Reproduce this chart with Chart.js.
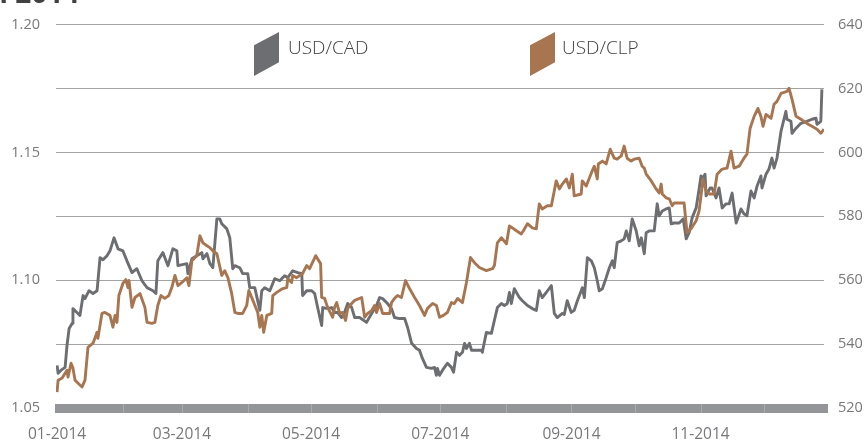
<!DOCTYPE html>
<html><head><meta charset="utf-8">
<script src="https://cdn.jsdelivr.net/npm/chart.js@4.4.1/dist/chart.umd.min.js"></script>
<style>
html,body{margin:0;padding:0;background:#fff;}
#wrap{position:relative;width:866px;height:443px;overflow:hidden;font-family:"Open Sans",sans-serif;}
canvas{position:absolute;left:0;top:0;}
.title{position:absolute;left:-19px;top:-22px;font-weight:700;font-size:28px;line-height:28px;color:#414042;white-space:nowrap;}
.sw{position:absolute;top:32px;width:25px;height:44px;clip-path:polygon(0 30%,100% 0,100% 69%,0 100%);}
.lt{position:absolute;top:38px;font-size:19px;line-height:19px;color:#414042;font-weight:300;white-space:nowrap;}
</style></head>
<body><div id="wrap">
<canvas id="c" width="866" height="443"></canvas>
<div class="title">in 2014</div>
<div class="sw" style="left:254px;background:#6d6e71"></div><div class="lt" style="left:288px">USD/CAD</div>
<div class="sw" style="left:530px;background:#a87551"></div><div class="lt" style="left:562px">USD/CLP</div>
</div>
<script>
// Day of year 2014 (0 = 1 Jan)
const monthStartDays = [0,31,59,90,120,151,181,212,243,273,304,334];
const xTickLabels = ['01-2014','','03-2014','','05-2014','','07-2014','','09-2014','','11-2014',''];
const cadTicks = [1.05,1.10,1.15,1.20];
const clpTicks = [520,540,560,580,600,620,640];

const cadDays = [0,0.5,1.9,3.8,4.7,5.7,7.1,7.5,9.4,10.8,12.3,13.2,15.1,17.0,18.9,20.3,21.7,23.6,25.0,26.9,28.8,31.1,33.0,35.4,37.7,40.1,42.5,45.3,46.7,47.6,50.0,52.4,54.7,56.6,57.1,61.3,61.8,63.7,66.0,68.4,68.9,70.8,72.2,73.6,75.5,76.9,77.8,80.2,81.6,83.0,84.0,86.3,87.7,90.1,91.0,93.4,95.8,96.7,98.1,100.5,102.8,105.2,107.5,109.0,111.3,113.7,115.6,116.0,117.9,120.3,121.7,123.1,125.0,125.5,127.8,129.7,131.1,132.5,134.4,135.8,137.3,139.2,140.6,142.9,146.2,148.6,150.9,152.4,153.8,156.1,158.0,159.4,161.8,164.2,165.6,167.5,169.8,171.2,172.6,174.5,176.9,178.3,179.2,179.7,180.7,182.1,184.4,186.3,187.3,188.7,190.1,191.5,192.5,193.4,194.8,195.8,198.1,200.5,200.9,202.8,205.2,205.7,208.0,209.9,211.3,212.7,213.7,214.6,216.0,218.4,219.8,222.2,224.5,226.4,227.8,229.2,231.1,233.5,234.9,236.3,238.7,239.6,241.0,242.9,244.3,245.8,247.6,248.1,249.1,250.5,252.4,253.8,255.2,256.1,257.6,259.4,260.9,262.3,263.2,264.6,266.5,267.9,268.9,270.3,271.7,273.6,275.0,276.0,277.4,278.3,279.7,282.1,283.5,284.4,285.9,287.7,289.2,290.1,291.5,293.9,295.8,297.2,298.6,300.0,301.9,303.3,304.2,305.2,306.1,306.6,308.5,309.4,311.3,312.7,314.2,316.0,317.5,318.9,320.8,323.1,324.5,325.9,327.8,329.3,330.7,332.5,333.0,334.9,336.3,337.7,338.7,340.1,342.0,344.3,344.8,346.7,347.2,349.1,351.4,354.2,356.6,358.5,359.0,360.8,361.3];
const cadRates = [1.0667,1.0636,1.0648,1.0659,1.0745,1.0811,1.0831,1.0889,1.0874,1.0862,1.0940,1.0928,1.0959,1.0948,1.0959,1.1088,1.1080,1.1096,1.1115,1.1166,1.1123,1.1115,1.1076,1.1030,1.1045,1.0998,1.0971,1.0959,1.0948,1.1076,1.1108,1.1057,1.1123,1.1115,1.1057,1.1065,1.1026,1.1084,1.1096,1.1108,1.1084,1.1104,1.1065,1.1049,1.1240,1.1240,1.1221,1.1201,1.1166,1.1045,1.1057,1.1049,1.1026,1.1026,1.0971,1.0971,1.0882,1.0959,1.0971,1.0959,1.1006,1.0998,1.1018,1.1010,1.1037,1.1030,1.1026,1.0940,1.0959,1.0959,1.0948,1.0893,1.0823,1.0893,1.0889,1.0893,1.0874,1.0874,1.0854,1.0874,1.0909,1.0893,1.0854,1.0854,1.0835,1.0870,1.0901,1.0932,1.0928,1.0909,1.0889,1.0854,1.0850,1.0850,1.0815,1.0753,1.0733,1.0726,1.0694,1.0659,1.0655,1.0659,1.0628,1.0655,1.0628,1.0648,1.0675,1.0659,1.0640,1.0718,1.0706,1.0718,1.0753,1.0733,1.0753,1.0726,1.0726,1.0726,1.0718,1.0796,1.0792,1.0811,1.0893,1.0909,1.0901,1.0909,1.0952,1.0909,1.0967,1.0932,1.0920,1.0901,1.0889,1.0882,1.0959,1.0932,1.0952,1.0979,1.0870,1.0854,1.0870,1.0866,1.0920,1.0874,1.0882,1.0920,1.0959,1.0971,1.0932,1.1088,1.1076,1.1049,1.0998,1.0959,1.0967,1.1010,1.1049,1.1076,1.1049,1.1147,1.1154,1.1162,1.1193,1.1154,1.1240,1.1193,1.1135,1.1166,1.1104,1.1186,1.1193,1.1193,1.1299,1.1252,1.1271,1.1279,1.1283,1.1221,1.1224,1.1224,1.1240,1.1162,1.1186,1.1244,1.1283,1.1357,1.1408,1.1400,1.1415,1.1330,1.1361,1.1361,1.1322,1.1361,1.1283,1.1299,1.1299,1.1341,1.1224,1.1279,1.1260,1.1252,1.1349,1.1322,1.1369,1.1408,1.1361,1.1415,1.1435,1.1478,1.1439,1.1478,1.1583,1.1661,1.1630,1.1622,1.1575,1.1595,1.1614,1.1622,1.1630,1.1634,1.1610,1.1622,1.1747];

const clpDays = [0,0.5,2.4,4.7,5.2,6.6,7.5,8.5,10.8,11.8,13.2,14.6,17.0,18.9,19.3,21.2,22.6,25.0,26.4,27.4,28.3,29.2,31.1,32.5,33.5,34.0,35.4,36.8,39.2,41.5,42.5,44.8,46.2,47.6,49.1,50.9,52.8,54.2,55.7,57.1,59.0,61.3,62.3,63.7,66.0,67.5,68.9,70.8,72.2,73.6,75.5,77.8,79.2,80.7,82.5,84.0,85.4,87.7,89.6,90.6,92.5,94.8,95.8,96.7,97.6,99.1,101.4,101.9,103.8,106.6,108.5,109.0,110.8,111.3,113.2,116.0,117.9,119.3,122.2,124.5,125.0,126.4,127.8,130.2,131.1,132.1,133.5,134.9,136.3,137.3,139.2,140.6,143.9,145.3,146.7,148.6,150.0,150.9,152.4,153.8,157.1,158.0,159.4,160.8,162.7,164.6,166.5,168.9,171.2,173.6,175.0,177.4,179.2,180.7,182.5,184.4,186.3,187.7,189.2,191.5,193.4,195.3,197.2,199.5,202.8,205.7,206.6,208.0,209.9,212.3,213.7,215.1,217.0,219.3,220.3,222.2,224.5,226.4,227.8,229.2,231.6,233.5,234.9,235.8,237.3,238.7,240.6,242.0,243.4,244.3,247.6,248.1,250.0,252.4,253.8,255.2,255.7,257.6,259.4,261.3,263.2,264.6,266.5,267.9,269.3,271.2,272.6,275.0,276.4,277.4,278.3,280.7,283.0,284.4,285.4,285.9,287.7,289.2,290.6,291.5,296.2,297.6,299.5,301.9,303.3,305.2,306.6,308.0,310.4,311.8,314.2,316.5,318.4,319.8,322.2,324.5,325.9,327.4,329.3,331.1,332.5,333.5,334.9,337.3,338.7,340.1,342.0,344.8,345.8,347.2,349.1,351.4,354.2,356.6,359.0,360.8,362.3];
const clpRates = [525.0,528.7,529.4,531.8,529.7,534.0,532.5,528.7,527.2,526.6,528.7,539.0,540.3,543.7,541.8,549.6,549.9,549.0,545.3,549.0,546.8,555.2,559.0,560.2,557.7,559.9,551.5,554.6,555.8,551.5,546.8,546.5,546.8,552.1,555.2,554.3,555.2,557.7,561.5,558.3,559.3,560.8,558.3,566.1,567.7,573.9,571.7,570.8,570.2,569.2,568.3,561.5,563.0,560.8,555.8,549.9,549.6,549.6,552.1,556.8,553.7,549.9,545.3,549.0,543.7,549.0,549.6,555.2,556.2,557.4,557.7,560.5,559.3,561.5,560.8,562.1,564.6,563.6,567.7,565.2,554.6,554.3,551.5,548.4,551.5,553.0,549.6,549.9,547.4,551.2,552.7,553.7,554.6,548.4,549.6,550.5,552.1,549.9,552.7,549.6,549.6,553.0,554.3,555.2,554.6,559.9,557.4,554.6,552.1,549.0,551.2,552.7,552.1,548.4,549.0,549.9,553.0,552.7,554.3,553.0,559.3,567.1,565.5,564.0,563.0,563.6,564.6,571.7,573.3,571.4,577.0,576.4,575.5,574.5,575.5,577.7,576.4,576.1,583.9,582.3,583.3,583.3,588.0,591.1,588.6,590.1,591.7,588.9,593.2,586.4,587.0,591.1,589.5,593.6,595.7,591.7,596.4,597.3,596.4,601.0,598.2,597.9,598.9,602.0,598.2,597.3,597.9,598.2,595.7,595.1,593.2,591.1,588.6,587.3,590.1,587.0,585.8,585.5,583.3,584.2,584.2,574.9,576.1,578.6,581.7,591.7,588.0,587.0,587.0,593.2,594.8,595.1,600.4,595.1,595.7,598.2,599.5,607.6,611.3,613.8,611.3,608.2,611.9,610.7,615.1,616.0,618.5,619.1,620.1,616.6,611.3,610.4,609.1,608.2,607.3,606.0,607.3];

function toPoints(days, vals){
  const n = Math.min(days.length, vals.length);
  const out = [];
  for (let i = 0; i < n; i++) out.push({x: days[i], y: vals[i]});
  return out;
}

const yTickFont = {family: '"Open Sans", sans-serif', size: 14.5};
const xTickFont = {family: '"Open Sans", sans-serif', size: 15.5};
const tickColor = '#77787b';

const barPlugin = {
  id: 'axisBar',
  beforeDatasetsDraw(chart){
    const {ctx, chartArea} = chart;
    const xs = chart.scales.x;
    const b = Math.round(chartArea.bottom);
    ctx.save();
    ctx.fillStyle = '#939598';
    ctx.fillRect(chartArea.left - 1, b - 4, chartArea.right - chartArea.left + 5, 9);
    ctx.strokeStyle = '#a9abae';
    ctx.lineWidth = 1;
    monthStartDays.slice(1).forEach(d => {
      const px = Math.round(xs.getPixelForValue(d)) + 0.5;
      ctx.beginPath(); ctx.moveTo(px, b - 4); ctx.lineTo(px, b + 5); ctx.stroke();
    });
    ctx.restore();
  }
};

new Chart(document.getElementById('c'), {
  type: 'line',
  data: {
    datasets: [
      {label: 'USD/CLP', data: toPoints(clpDays, clpRates), yAxisID: 'y2', borderColor: '#a87551', backgroundColor: '#a87551', borderWidth: 2.9, pointRadius: 0, tension: 0, borderJoinStyle: 'round', order: 0},
      {label: 'USD/CAD', data: toPoints(cadDays, cadRates), yAxisID: 'y', borderColor: '#6d6e71', backgroundColor: '#6d6e71', borderWidth: 2.9, pointRadius: 0, tension: 0, borderJoinStyle: 'round', order: 1}
    ]
  },
  options: {
    responsive: false,
    animation: false,
    events: [],
    layout: {padding: {top: 23, left: 0, right: 0, bottom: 0}},
    plugins: {legend: {display: false}, tooltip: {enabled: false}},
    scales: {
      x: {
        type: 'linear', min: -0.5, max: 362.3,
        afterBuildTicks: s => { s.ticks = monthStartDays.map(v => ({value: v})); },
        afterFit: s => { s.height = 35; },
        grid: {display: false, drawTicks: false},
        border: {display: false},
        ticks: {autoSkip: false, maxRotation: 0, minRotation: 0, padding: 17, color: tickColor, font: xTickFont,
          callback: (v, i) => xTickLabels[i]}
      },
      y: {
        position: 'left', min: 1.05, max: 1.20,
        afterBuildTicks: s => { s.ticks = cadTicks.map(v => ({value: v})); },
        afterFit: s => { s.width = 56; },
        grid: {display: false, drawTicks: false},
        border: {display: false},
        ticks: {padding: 16, color: tickColor, font: yTickFont, callback: v => Number(v).toFixed(2)}
      },
      y2: {
        position: 'right', min: 520, max: 640,
        afterBuildTicks: s => { s.ticks = clpTicks.map(v => ({value: v})); },
        afterFit: s => { s.width = 42; },
        grid: {color: '#a3a3a3', lineWidth: 1, drawTicks: false},
        border: {display: false},
        ticks: {padding: 14, color: tickColor, font: yTickFont, callback: v => String(v)}
      }
    }
  },
  plugins: [barPlugin]
});
</script>
</body></html>
